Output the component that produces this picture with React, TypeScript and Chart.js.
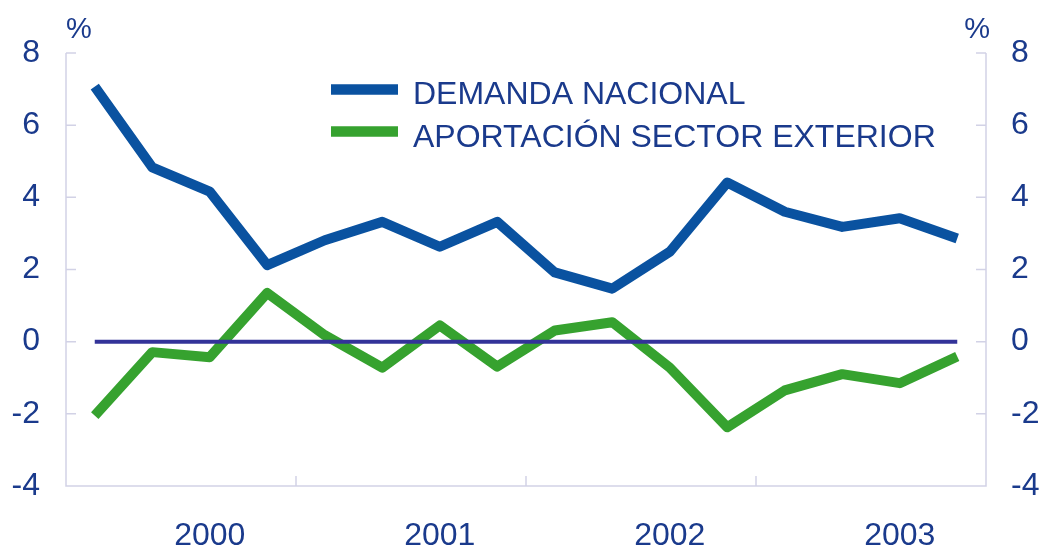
import React, { useEffect, useRef } from 'react';
import { Chart, registerables } from 'chart.js';

Chart.register(...registerables);

const quarters = [
  'I-2000', 'II-2000', 'III-2000', 'IV-2000',
  'I-2001', 'II-2001', 'III-2001', 'IV-2001',
  'I-2002', 'II-2002', 'III-2002', 'IV-2002',
  'I-2003', 'II-2003', 'III-2003', 'IV-2003',
];
const xTickLabels = ['', '', '2000', '', '', '', '2001', '', '', '', '2002', '', '', '', '2003', ''];
const yearBoundaries = [3.5, 7.5, 11.5];
const demandaNacional = [7.07, 4.83, 4.16, 2.12, 2.81, 3.32, 2.63, 3.32, 1.92, 1.47, 2.49, 4.41, 3.6, 3.18, 3.42, 2.86];
const sectorExterior = [-2.05, -0.29, -0.43, 1.35, 0.18, -0.72, 0.45, -0.69, 0.31, 0.54, -0.72, -2.37, -1.35, -0.9, -1.15, -0.41];
const zeroLine = [0, 0, 0, 0, 0, 0, 0, 0, 0, 0, 0, 0, 0, 0, 0, 0];
const yTicks = [-4, -2, 0, 2, 4, 6, 8];
const seriesNames = ['DEMANDA NACIONAL', 'APORTACIÓN SECTOR EXTERIOR'];
const unitLabel = '%';

const TEXT = '#1a3a8c';
const AXIS = '#d2d2e6';
const BLUE = '#0a52a0';
const GREEN = '#36a22f';
const ZERO = '#333399';
const FONT = '"Liberation Sans", Arial, sans-serif';

const decorPlugin = {
  id: 'decor',
  beforeDatasetsDraw(chart: any) {
    const { ctx, chartArea } = chart;
    const { left, right, top, bottom } = chartArea;
    const y = chart.scales.y;
    const x = chart.scales.x;
    ctx.save();
    ctx.strokeStyle = AXIS;
    ctx.lineWidth = 1.5;
    ctx.beginPath();
    ctx.moveTo(left, top);
    ctx.lineTo(left, bottom);
    ctx.lineTo(right, bottom);
    ctx.lineTo(right, top);
    yTicks.forEach((v) => {
      const py = y.getPixelForValue(v);
      ctx.moveTo(left, py);
      ctx.lineTo(left + 10, py);
      ctx.moveTo(right, py);
      ctx.lineTo(right - 10, py);
    });
    yearBoundaries.forEach((v) => {
      const px = x.getPixelForValue(v);
      ctx.moveTo(px, bottom);
      ctx.lineTo(px, bottom - 10);
    });
    ctx.stroke();
    ctx.restore();
  },
  afterDraw(chart: any) {
    const { ctx, chartArea } = chart;
    ctx.save();
    ctx.fillStyle = TEXT;
    ctx.font = `29px ${FONT}`;
    ctx.textBaseline = 'alphabetic';
    ctx.textAlign = 'left';
    ctx.fillText(unitLabel, chartArea.left, 38);
    ctx.textAlign = 'right';
    ctx.fillText(unitLabel, chartArea.right + 4, 38);

    // legend
    const colors = [BLUE, GREEN];
    const lineY = [89.5, 131.5];
    const textY = [104, 147];
    ctx.textAlign = 'left';
    ctx.font = `32px ${FONT}`;
    seriesNames.forEach((name, i) => {
      ctx.strokeStyle = colors[i];
      ctx.lineWidth = 10.5;
      ctx.lineCap = 'butt';
      ctx.beginPath();
      ctx.moveTo(331, lineY[i]);
      ctx.lineTo(398, lineY[i]);
      ctx.stroke();
      ctx.fillText(name, 413, textY[i]);
    });
    ctx.restore();
  },
};

export default function App() {
  const ref = useRef<HTMLCanvasElement>(null);
  useEffect(() => {
    if (!ref.current) return;
    const tickFont = { family: FONT, size: 32 };
    const chart = new Chart(ref.current, {
      type: 'line',
      data: {
        labels: quarters,
        datasets: [
          {
            label: 'cero',
            data: zeroLine,
            yAxisID: 'y',
            borderColor: ZERO,
            borderWidth: 4,
            pointRadius: 0,
            order: 0,
            borderCapStyle: 'butt',
          },
          {
            label: seriesNames[0],
            data: demandaNacional,
            yAxisID: 'y',
            borderColor: BLUE,
            borderWidth: 10,
            pointRadius: 0,
            tension: 0,
            order: 1,
            borderJoinStyle: 'round',
            borderCapStyle: 'butt',
          },
          {
            label: seriesNames[1],
            data: sectorExterior,
            yAxisID: 'y',
            borderColor: GREEN,
            borderWidth: 10,
            pointRadius: 0,
            tension: 0,
            order: 2,
            borderJoinStyle: 'round',
            borderCapStyle: 'butt',
          },
        ],
      },
      options: {
        responsive: false,
        animation: false,
        layout: { padding: { top: 53, left: 0, right: 0, bottom: 0 } },
        plugins: {
          legend: { display: false },
          tooltip: { enabled: false },
        },
        scales: {
          x: {
            type: 'category',
            offset: true,
            grid: { display: false, drawTicks: false, tickLength: 0 },
            border: { display: false },
            ticks: {
              autoSkip: false,
              maxRotation: 0,
              minRotation: 0,
              padding: 31,
              color: TEXT,
              font: tickFont,
              callback: (_v: any, i: number) => xTickLabels[i],
            },
            afterFit: (s: any) => {
              s.height = 64;
            },
          },
          y: {
            position: 'left',
            min: -4,
            max: 8,
            grid: { display: false, drawTicks: false, tickLength: 0 },
            border: { display: false },
            ticks: { stepSize: 2, padding: 26, color: TEXT, font: tickFont },
            afterFit: (s: any) => {
              s.width = 66;
            },
          },
          y2: {
            position: 'right',
            min: -4,
            max: 8,
            grid: { display: false, drawTicks: false, tickLength: 0 },
            border: { display: false },
            ticks: { stepSize: 2, padding: 25, color: TEXT, font: tickFont },
            afterFit: (s: any) => {
              s.width = 57;
            },
          },
        },
      },
      plugins: [decorPlugin],
    });
    return () => chart.destroy();
  }, []);
  return (
    <div style={{ position: 'absolute', left: 0, top: 0, width: 1043, height: 550, background: '#fff' }}>
      <canvas ref={ref} width={1043} height={550} />
    </div>
  );
}
